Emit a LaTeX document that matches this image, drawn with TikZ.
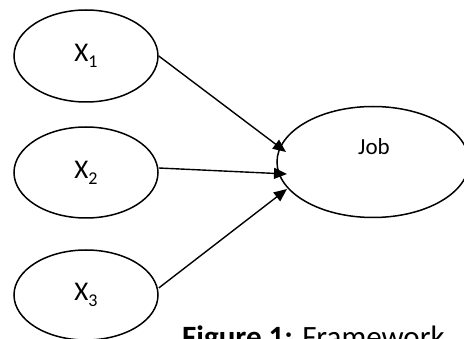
\documentclass[tikz,border=0pt]{standalone}
\usepackage{fontspec}
\setmainfont{Carlito}
\usetikzlibrary{shapes.geometric,arrows.meta}
\newcommand{\xlab}[1]{\fontsize{27}{30}\selectfont X\raisebox{-0.22em}{\fontsize{18}{18}\selectfont #1}}
\begin{document}
\begin{tikzpicture}[x=1pt,y=-1pt,
  oval/.style={draw,ellipse,line width=1.5pt,inner sep=0pt},
  arr/.style={line width=1.4pt,-{Triangle[length=13pt,width=11pt]}}]
\useasboundingbox (0,0) rectangle (464,339);
\clip (0,0) rectangle (464,339);
\node[oval,minimum width=144pt,minimum height=92pt] (x1) at (86,56) {\xlab{1}};
\node[oval,minimum width=144pt,minimum height=91pt] (x2) at (86,172.5) {\xlab{2}};
\node[oval,minimum width=144pt,minimum height=90pt] (x3) at (86,295) {\xlab{3}};
\node[oval,minimum width=192pt,minimum height=111pt] (job) at (373,162) {};
\node[font=\fontsize{23}{26}\selectfont] (jobt) at (374,147) {Job};
\coordinate (t1) at (286,152);
\coordinate (t2) at (287,174);
\coordinate (t3) at (287,189);
\draw[arr] (x1.east) -- (t1);
\draw[arr] ([yshift=4.5pt]x2.east) -- (t2);
\draw[arr] ([yshift=7pt]x3.east) -- (t3);
\node[anchor=base west,inner sep=0pt,font=\fontsize{31}{34}\selectfont] (cap) at (182,348) {\textbf{Figure 1:} Framework};
\end{tikzpicture}
\end{document}
